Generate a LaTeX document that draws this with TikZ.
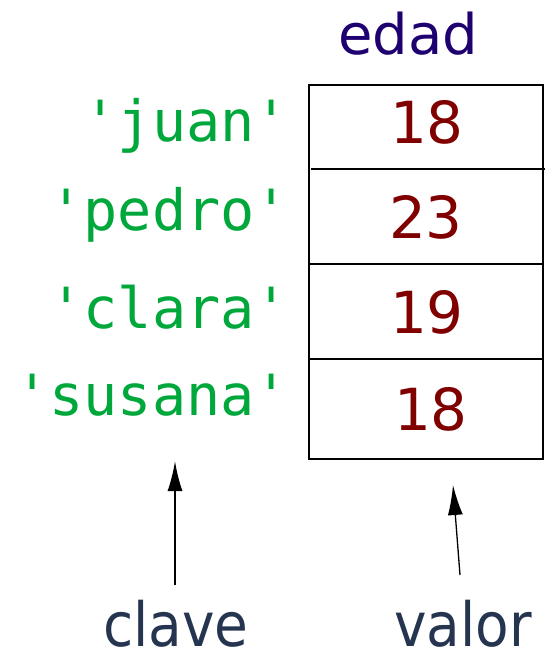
\documentclass[tikz,border=0pt]{standalone}
\usepackage{fontspec}
\setmainfont{DejaVu Sans}
\newfontfamily\keyfont[Ligatures=TeXOff]{DejaVu Sans Mono}
\newfontfamily\labfont{DejaVu Sans Condensed}
\usetikzlibrary{arrows.meta}
\definecolor{keygreen}{HTML}{00A83C}
\definecolor{numred}{HTML}{800000}
\definecolor{headblue}{HTML}{1E0070}
\definecolor{labblue}{HTML}{253550}
\tikzset{
  keytxt/.style={anchor=base east,inner sep=0pt,text=keygreen,font=\keyfont\fontsize{56.8}{60}\selectfont},
  numtxt/.style={anchor=base,inner sep=0pt,text=numred,font=\fontsize{58}{60}\selectfont},
  headtxt/.style={anchor=base,inner sep=0pt,text=headblue,font=\fontsize{56}{60}\selectfont},
  labtxt/.style={anchor=base,inner sep=0pt,text depth=0pt,text=labblue,font=\labfont\fontsize{61}{64}\selectfont},
  cell/.style={line width=2pt},
  ptr/.style={-{Latex[length=30pt,width=15pt]}}
}
\begin{document}
\begin{tikzpicture}[x=1pt,y=-1pt]
\useasboundingbox (0,0) rectangle (553,650);
% header
\node[headtxt] (edad) at (408,55) {edad};
% table
\draw[cell] (309,85) rectangle (543,459);
\draw[cell] (311,169) -- (545,169);
\draw[cell] (309,264) -- (543,264);
\draw[cell] (309,359) -- (543,359);
% values
\node[numtxt] (v1) at (427,143) {18};
\node[numtxt] (v2) at (426,238) {23};
\node[numtxt] (v3) at (427,333) {19};
\node[numtxt] (v4) at (431,430) {18};
% keys
\node[keytxt] (k1) at (289,142) {\textquotesingle juan\textquotesingle};
\node[keytxt] (k2) at (289,230) {\textquotesingle pedro\textquotesingle};
\node[keytxt] (k3) at (289,328) {\textquotesingle clara\textquotesingle};
\node[keytxt] (k4) at (289,415) {\textquotesingle susana\textquotesingle};
% labels
\node[labtxt] (clave) at (176,646) {clave};
\node[labtxt] (valor) at (463,646) {valor};
\coordinate (cs) at (175,585);
\coordinate (ce) at (175,461);
\coordinate (vs) at (460,575);
\coordinate (ve) at (453,485);
\draw[ptr,line width=2pt] (cs) -- (ce);
\draw[ptr,line width=1.3pt] (vs) -- (ve);
\end{tikzpicture}
\end{document}
